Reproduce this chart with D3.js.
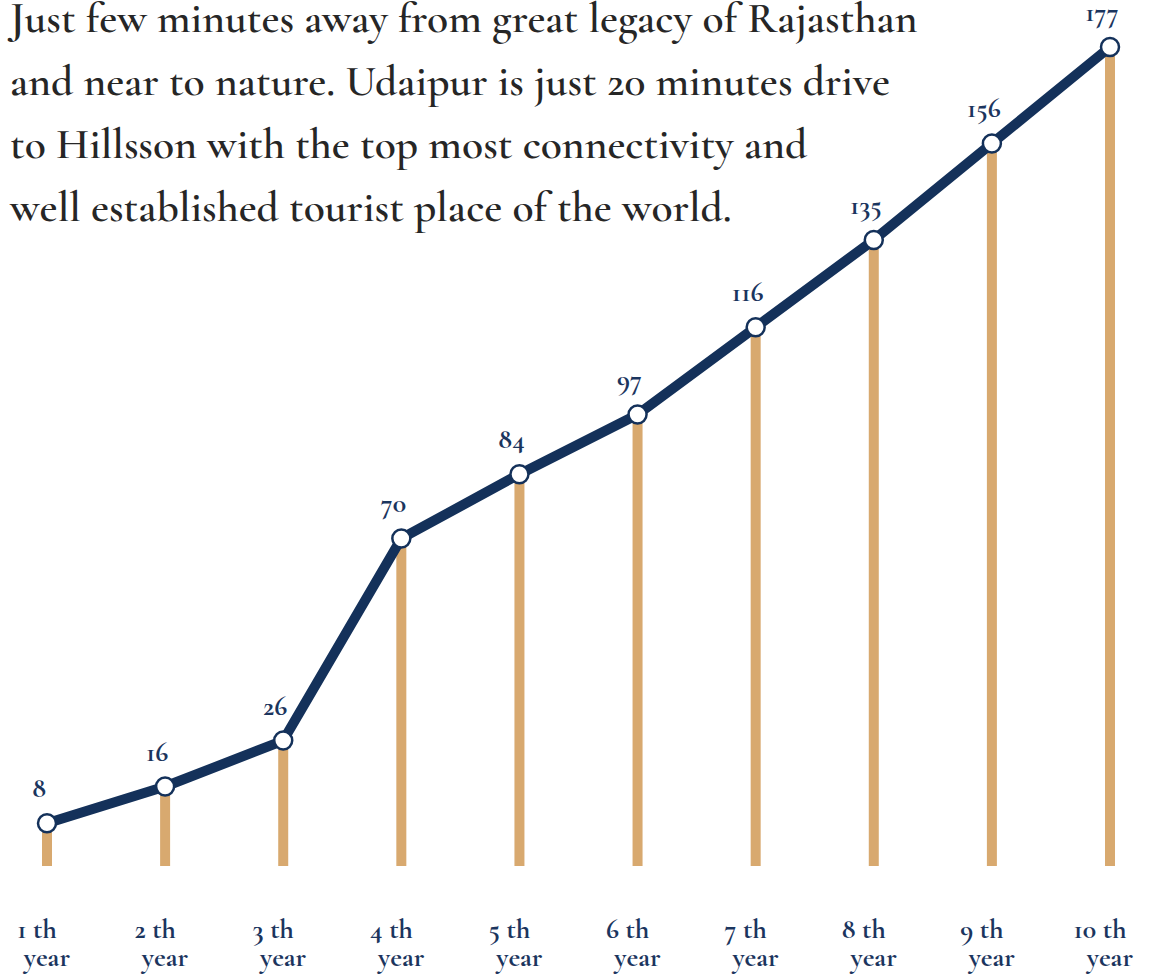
<!DOCTYPE html>
<html lang="en">
<head>
  <meta charset="UTF-8">
  <title>Hillsson growth</title>
  <script src="https://d3js.org/d3.v7.min.js"></script>
  <style>
    body { margin: 0; background: #fff; }
    svg { display: block; }
    .title { font-family: "Cormorant Garamond", "Liberation Serif", serif; font-weight: 600; fill: #262626; }
    .val, .tick { font-family: "Cormorant Garamond", "Liberation Serif", serif; font-weight: 700; fill: #1b355e; }
  </style>
</head>
<body>
  <div id="chart"></div>

  <script>
    const years = ['1 th', '2 th', '3 th', '4 th', '5 th', '6 th', '7 th', '8 th', '9 th', '10 th'];
    const values = [8, 16, 26, 70, 84, 97, 116, 135, 156, 177];
    const titleLines = [
      'Just few minutes away from great legacy of Rajasthan',
      'and near to nature. Udaipur is just 20 minutes drive',
      'to Hillsson with the top most connectivity and',
      'well established tourist place of the world.'
    ];

    const W = 1158, H = 976;
    const svg = d3.select('#chart').append('svg').attr('width', W).attr('height', H);

    const x = d3.scalePoint().domain(years).range([47, 1110]);
    const y = d3.scaleLinear().domain([0, 177]).range([860, 47]);
    const base = 866;

    // stems
    svg.selectAll('rect.stem')
      .data(values)
      .join('rect')
      .attr('class', 'stem')
      .attr('x', (d, i) => x(years[i]) - 5)
      .attr('width', 10)
      .attr('y', d => y(d))
      .attr('height', d => base - y(d))
      .attr('fill', '#d8a96f');

    // line
    const line = d3.line().x((d, i) => x(years[i])).y(d => y(d));
    svg.append('path')
      .datum(values)
      .attr('d', line)
      .attr('fill', 'none')
      .attr('stroke', '#14315a')
      .attr('stroke-width', 10)
      .attr('stroke-linejoin', 'round');

    svg.selectAll('circle.pt')
      .data(values)
      .join('circle')
      .attr('class', 'pt')
      .attr('cx', (d, i) => x(years[i]))
      .attr('cy', d => y(d))
      .attr('r', 9)
      .attr('fill', '#fff')
      .attr('stroke', '#14315a')
      .attr('stroke-width', 2.5);

    svg.selectAll('text.val')
      .data(values)
      .join('text')
      .attr('class', 'val')
      .attr('x', (d, i) => x(years[i]) - 8)
      .attr('y', d => y(d) - 26)
      .attr('text-anchor', 'middle')
      .attr('font-size', 28)
      .text(d => d);

    // x labels
    const tk = svg.selectAll('text.tick')
      .data(years)
      .join('text')
      .attr('class', 'tick')
      .attr('font-size', 28)
      .attr('text-anchor', 'middle');
    tk.append('tspan').attr('x', d => x(d) - 10).attr('y', 938).text(d => d);
    tk.append('tspan').attr('x', d => x(d)).attr('y', 966).text('year');

    // title, size fitted so first line spans like the original
    const title = svg.selectAll('text.title')
      .data(titleLines)
      .join('text')
      .attr('class', 'title')
      .attr('x', 10)
      .attr('y', (d, i) => 32 + i * 63)
      .attr('font-size', 40)
      .text(d => d);
    const w0 = title.node().getComputedTextLength();
    if (w0 > 0) title.attr('font-size', 40 * 908 / w0);
  </script>
</body>
</html>
